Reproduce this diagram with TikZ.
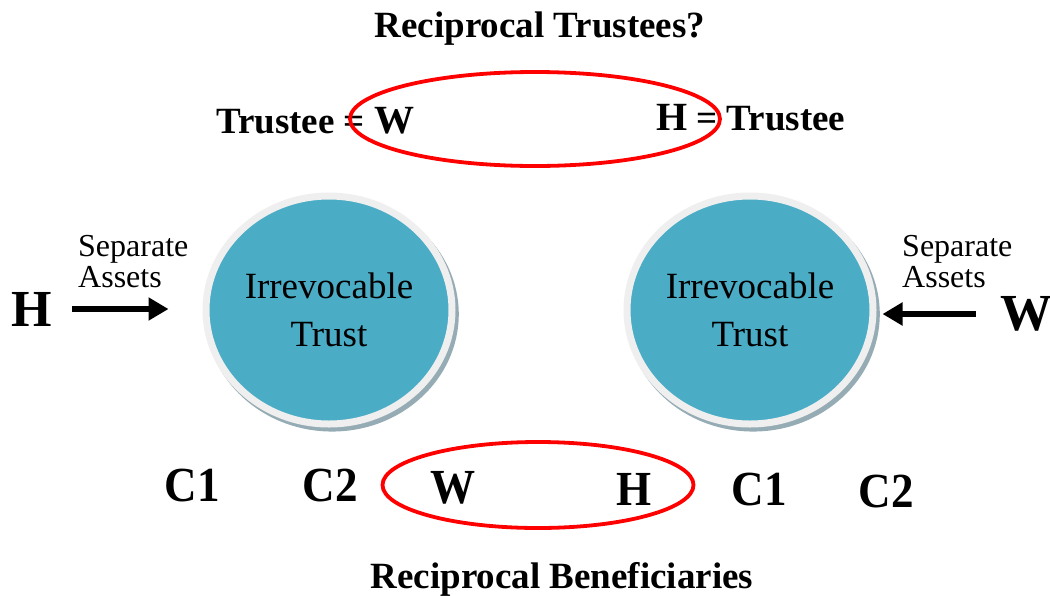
\documentclass[tikz,border=0pt]{standalone}
\usepackage{fontspec}
\setmainfont{Liberation Serif}
\usetikzlibrary{arrows.meta, shapes.geometric, shadows}
\definecolor{trustteal}{HTML}{4BACC6}
\definecolor{trustrim}{HTML}{EFEFEF}
\definecolor{trustshade}{HTML}{8AA3AD}
\newcommand{\narrow}[1]{\scalebox{0.92}[1]{#1}}

\begin{document}
\begin{tikzpicture}[x=1pt, y=-1pt,
  head/.style={font=\bfseries\fontsize{37}{44}\selectfont, inner sep=0pt},
  role/.style={font=\bfseries\fontsize{37}{44}\selectfont, inner sep=0pt},
  party/.style={font=\bfseries\fontsize{52}{60}\selectfont, inner sep=0pt},
  kin/.style={font=\bfseries\fontsize{49}{56}\selectfont, inner sep=0pt},
  note/.style={font=\fontsize{32}{31}\selectfont, align=left, inner sep=0pt},
  trust/.style={ellipse, fill=trustteal, draw=trustrim, line width=7pt,
    minimum width=246pt, minimum height=228pt, inner sep=0pt, align=center,
    font=\fontsize{37}{48}\selectfont,
    drop shadow={shadow xshift=3pt, shadow yshift=-4pt, shadow scale=1.03,
      fill=trustshade, opacity=.9}},
  ring/.style={ellipse, draw=red, line width=3.8pt, inner sep=0pt},
  asset/.style={line width=5.5pt, -{Triangle[length=20pt, width=22pt]}}
]
\useasboundingbox (0,0) rectangle (1050,595);

\node[head, anchor=base] (title) at (540,37) {Reciprocal Trustees?};
\node[role, anchor=base west] (trusteeW) at (216,133) {Trustee = {\fontsize{40}{48}\selectfont W}};
\node[role, anchor=base west] (trusteeH) at (656,130) {{\fontsize{40}{48}\selectfont H} = Trustee};

\node[trust] (trustL) at (329,310) {Irrevocable\\Trust};
\node[trust] (trustR) at (750,310) {Irrevocable\\Trust};

\node[party] (husband) at (32,309) {H};
\node[party] (wife) at (1026,314) {W};
\node[note, anchor=west] (assetsL) at (78,262) {Separate\\Assets};
\node[note, anchor=west] (assetsR) at (902,262) {Separate\\Assets};

\node[kin, anchor=base] (c1L) at (192,501) {\narrow{C1}};
\node[kin, anchor=base] (c2L) at (330,501) {\narrow{C2}};
\node[kin, anchor=base] (benW) at (453,503) {\narrow{W}};
\node[kin, anchor=base] (benH) at (634,505) {\narrow{H}};
\node[kin, anchor=base] (c1R) at (759,505) {\narrow{C1}};
\node[kin, anchor=base] (c2R) at (886,507) {\narrow{C2}};
\node[head, anchor=base] (benefit) at (562,588) {Reciprocal Beneficiaries};

\node[ring, minimum width=370pt, minimum height=94pt] (trusteeRing) at (535,119) {};
\node[ring, minimum width=311pt, minimum height=86pt] (benefitRing) at (538,485) {};

\draw[asset, shorten <=20pt, shorten >=34pt] (husband) -- (husband -| trustL.west);
\draw[asset, shorten <=24pt, shorten >=6pt] (wife) -- (wife -| trustR.east);
\end{tikzpicture}
\end{document}
